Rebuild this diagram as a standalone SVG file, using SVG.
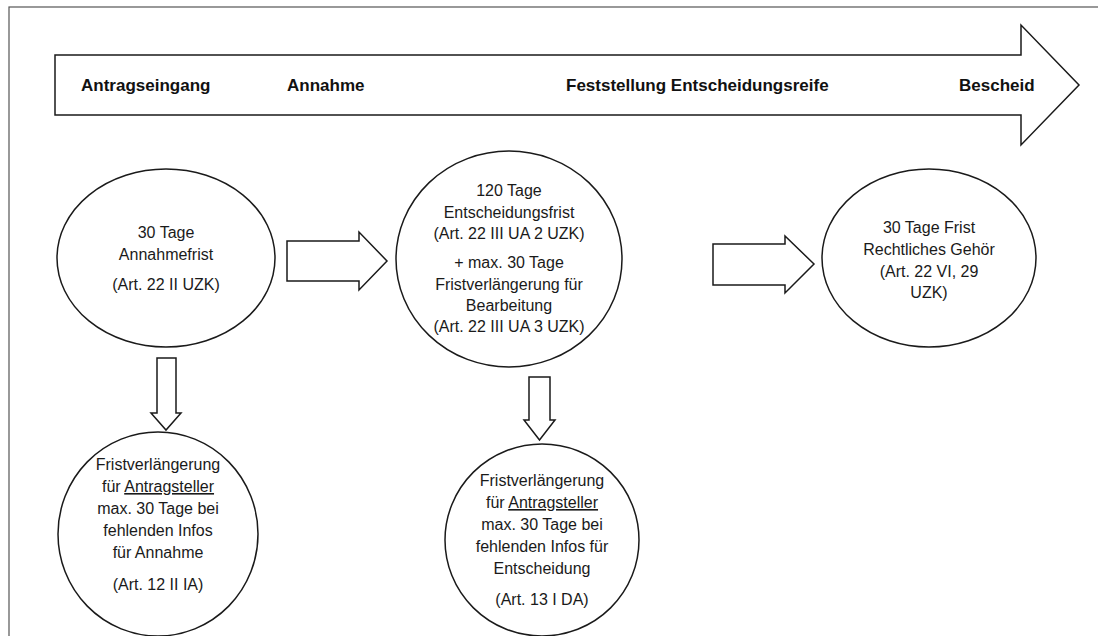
<svg xmlns="http://www.w3.org/2000/svg" width="1098" height="636" viewBox="0 0 1098 636">
<style>
.shape{fill:#fff;stroke:#1a1a1a;stroke-width:1.5}
.frame{fill:#fff;stroke:#555;stroke-width:1.2}
.t{font-family:"Liberation Sans",Arial,sans-serif;font-size:16px;fill:#1a1a1a;text-anchor:middle}
.b{font-family:"Liberation Sans",Arial,sans-serif;font-size:17px;font-weight:bold;fill:#111}
</style>
<rect class="frame" x="9" y="7" width="1100" height="640"/>
<g id="timeline">
<path class="shape" d="M55 55 H1021 V25 L1079 85 L1021 145 V115 H55 Z"/>
<text class="b" x="81" y="91">Antragseingang</text>
<text class="b" x="287" y="91">Annahme</text>
<text class="b" x="566" y="91">Feststellung Entscheidungsreife</text>
<text class="b" x="959" y="91">Bescheid</text>
</g>
<g id="connectors">
<path class="shape" d="M287 241 H359 V232 L387 261 L359 290 V281 H287 Z"/>
<path class="shape" d="M713 244 H785 V236 L814 264 L785 293 V285 H713 Z"/>
<path class="shape" d="M157 358 H176 V413 H181 L166 430 L151 413 H157 Z"/>
<path class="shape" d="M529 377 H550 V420 H555 L539.5 440 L524 420 H529 Z"/>
</g>
<g id="node-annahmefrist">
<ellipse class="shape" cx="166" cy="258" rx="109" ry="89"/>
<text class="t" x="166" y="238">30 Tage</text>
<text class="t" x="166" y="260">Annahmefrist</text>
<text class="t" x="166" y="290">(Art. 22 II UZK)</text>
</g>
<g id="node-entscheidungsfrist">
<ellipse class="shape" cx="509" cy="259" rx="113" ry="108"/>
<text class="t" x="509" y="196">120 Tage</text>
<text class="t" x="509" y="218">Entscheidungsfrist</text>
<text class="t" x="509" y="239">(Art. 22 III UA 2 UZK)</text>
<text class="t" x="509" y="268">+ max. 30 Tage</text>
<text class="t" x="509" y="290">Fristverlängerung für</text>
<text class="t" x="509" y="311">Bearbeitung</text>
<text class="t" x="509" y="332">(Art. 22 III UA 3 UZK)</text>
</g>
<g id="node-gehoer">
<ellipse class="shape" cx="929" cy="258" rx="107" ry="89"/>
<text class="t" x="929" y="233">30 Tage Frist</text>
<text class="t" x="929" y="255">Rechtliches Gehör</text>
<text class="t" x="929" y="277">(Art. 22 VI, 29</text>
<text class="t" x="929" y="298">UZK)</text>
</g>
<g id="node-verlaengerung-annahme">
<ellipse class="shape" cx="158" cy="534" rx="100" ry="102"/>
<text class="t" x="158" y="470">Fristverlängerung</text>
<text class="t" x="158" y="492">für <tspan text-decoration="underline">Antragsteller</tspan></text>
<text class="t" x="158" y="514">max. 30 Tage bei</text>
<text class="t" x="158" y="536">fehlenden Infos</text>
<text class="t" x="158" y="558">für Annahme</text>
<text class="t" x="158" y="590">(Art. 12 II IA)</text>
</g>
<g id="node-verlaengerung-entscheidung">
<ellipse class="shape" cx="542" cy="540" rx="97" ry="96"/>
<text class="t" x="542" y="486">Fristverlängerung</text>
<text class="t" x="542" y="508">für <tspan text-decoration="underline">Antragsteller</tspan></text>
<text class="t" x="542" y="530">max. 30 Tage bei</text>
<text class="t" x="542" y="552">fehlenden Infos für</text>
<text class="t" x="542" y="574">Entscheidung</text>
<text class="t" x="542" y="605">(Art. 13 I DA)</text>
</g>
</svg>
